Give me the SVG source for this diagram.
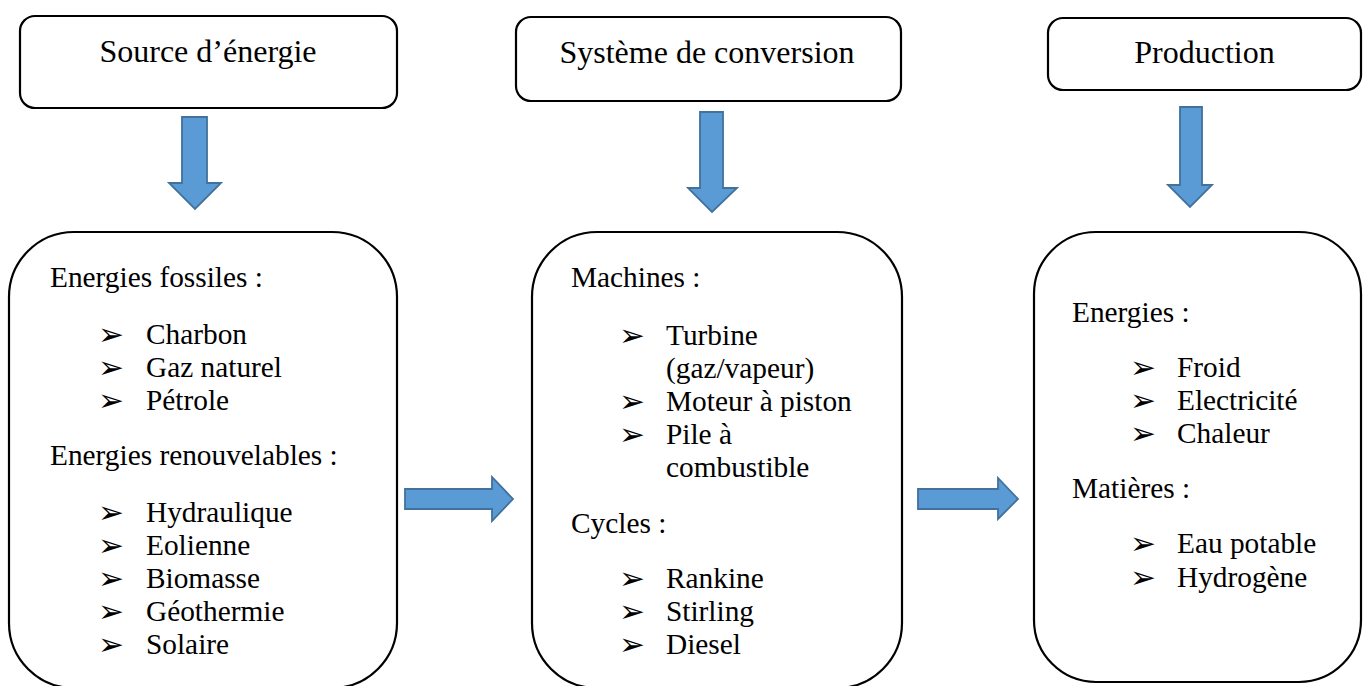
<svg xmlns="http://www.w3.org/2000/svg" width="1371" height="686" viewBox="0 0 1371 686">
<style>
.box{fill:#fff;stroke:#000;stroke-width:2.2}
.arrow{fill:#5B9BD5;stroke:#41719C;stroke-width:1.8;stroke-linejoin:miter}
.title{font-family:"Liberation Serif","Times New Roman",serif;font-size:32px;fill:#000;text-anchor:middle}
.t{font-family:"Liberation Serif","Times New Roman",serif;font-size:29.33px;fill:#000}
.b{font-family:"DejaVu Sans",sans-serif;font-size:31px;fill:#000}
</style>
<rect width="1371" height="686" fill="#fff"/>
<g id="source-title">
<rect class="box" x="20" y="16" width="377" height="92" rx="15"/>
<text class="title" x="208" y="62">Source d’énergie</text>
</g>
<g id="conversion-title">
<rect class="box" x="516" y="17" width="385" height="84" rx="15"/>
<text class="title" x="707" y="63">Système de conversion</text>
</g>
<g id="production-title">
<rect class="box" x="1048" y="18" width="313" height="72" rx="15"/>
<text class="title" x="1204.5" y="63">Production</text>
</g>
<g id="source-list">
<rect class="box" x="9" y="232" width="388" height="456" rx="65"/>
<text class="t" x="50" y="287">Energies fossiles :</text>
<text class="b" x="98" y="345">➢</text><text class="t" x="146" y="344">Charbon</text>
<text class="b" x="98" y="378">➢</text><text class="t" x="146" y="377">Gaz naturel</text>
<text class="b" x="98" y="411">➢</text><text class="t" x="146" y="410">Pétrole</text>
<text class="t" x="50" y="465">Energies renouvelables :</text>
<text class="b" x="98" y="523">➢</text><text class="t" x="146" y="522">Hydraulique</text>
<text class="b" x="98" y="556">➢</text><text class="t" x="146" y="555">Eolienne</text>
<text class="b" x="98" y="589">➢</text><text class="t" x="146" y="588">Biomasse</text>
<text class="b" x="98" y="622">➢</text><text class="t" x="146" y="621">Géothermie</text>
<text class="b" x="98" y="655">➢</text><text class="t" x="146" y="654">Solaire</text>
</g>
<g id="conversion-list">
<rect class="box" x="532" y="232" width="370" height="456" rx="65"/>
<text class="t" x="571" y="287">Machines :</text>
<text class="b" x="619" y="346">➢</text><text class="t" x="666" y="345">Turbine</text>
<text class="t" x="666" y="378">(gaz/vapeur)</text>
<text class="b" x="619" y="412">➢</text><text class="t" x="666" y="411">Moteur à piston</text>
<text class="b" x="619" y="445">➢</text><text class="t" x="666" y="444">Pile à</text>
<text class="t" x="666" y="477">combustible</text>
<text class="t" x="571" y="533">Cycles :</text>
<text class="b" x="619" y="589">➢</text><text class="t" x="666" y="588">Rankine</text>
<text class="b" x="619" y="622">➢</text><text class="t" x="666" y="621">Stirling</text>
<text class="b" x="619" y="655">➢</text><text class="t" x="666" y="654">Diesel</text>
</g>
<g id="production-list">
<rect class="box" x="1034" y="232" width="327" height="450" rx="62"/>
<text class="t" x="1072" y="322">Energies :</text>
<text class="b" x="1130" y="378">➢</text><text class="t" x="1177" y="377">Froid</text>
<text class="b" x="1130" y="411">➢</text><text class="t" x="1177" y="410">Electricité</text>
<text class="b" x="1130" y="444">➢</text><text class="t" x="1177" y="443">Chaleur</text>
<text class="t" x="1072" y="498">Matières :</text>
<text class="b" x="1130" y="554">➢</text><text class="t" x="1177" y="553">Eau potable</text>
<text class="b" x="1130" y="588">➢</text><text class="t" x="1177" y="587">Hydrogène</text>
</g>
<g id="connectors">
<polygon class="arrow" points="182,117 207,117 207,183 221,183 195,209 169,183 182,183"/>
<polygon class="arrow" points="700,112 723,112 723,188 737,188 712,212 688,188 700,188"/>
<polygon class="arrow" points="1180,107 1202,107 1202,185 1212,185 1190,207 1168,185 1180,185"/>
<polygon class="arrow" points="405,489 492,489 492,477 513,499 492,521 492,509 405,509"/>
<polygon class="arrow" points="918,489 998,489 998,478 1018,499 998,519 998,509 918,509"/>
</g>
</svg>
